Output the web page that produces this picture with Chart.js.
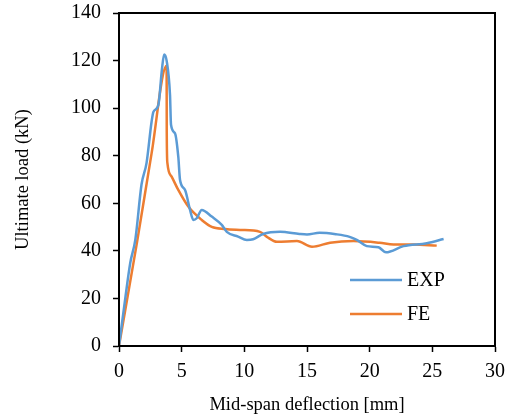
<!DOCTYPE html>
<html>
<head>
<meta charset="utf-8">
<script src="https://cdn.jsdelivr.net/npm/chart.js@4"></script>
<style>
  html, body { margin: 0; padding: 0; background: #fff; }
  #wrap { width: 511px; height: 419px; }
</style>
</head>
<body>
<div id="wrap"><canvas id="myChart" width="511" height="419"></canvas></div>
<script>
// deflection (mm) / load (kN)
const expX = [0, 0.5, 0.9, 1.3, 1.8, 2.2, 2.6, 2.75, 3.14, 3.42, 3.6, 3.8, 4.07, 4.15, 4.47, 4.73, 4.87, 5.27, 5.67, 5.93, 6.2, 6.6, 7.4, 8.2, 8.6, 9.5, 10.2, 10.7, 11.5, 12.85, 14.4, 15.0, 16.0, 17.3, 18.4, 18.97, 19.77, 20.7, 21.3, 22.7, 24.56, 25.9];
const expY = [0, 20, 35, 44.6, 68, 77, 94.3, 98.5, 101.3, 116, 122.6, 120, 105.5, 93, 89.4, 79.6, 69.8, 65.6, 57.2, 53, 53.7, 57.2, 54.4, 50.9, 48, 46, 44.6, 44.9, 47.1, 48, 47.1, 46.9, 47.6, 47, 45.9, 44.6, 42, 41.5, 39.4, 42, 43.2, 45];

const feX = [0, 1.45, 2.6, 3.8, 3.81, 3.86, 4.2, 4.73, 5.53, 6.6, 7.4, 8.46, 9.66, 11.25, 11.8, 12.6, 14.2, 15.4, 16.84, 18.7, 20.8, 21.9, 23.5, 25.35];
const feY = [0, 44, 81, 117.8, 90, 77, 71.2, 65.6, 58.6, 53, 50.1, 49.2, 48.8, 48, 45.9, 43.8, 44.1, 41.7, 43.4, 44.1, 43.4, 42.7, 42.7, 42.2];

const seriesNames = ["EXP", "FE"];
const seriesColors = ["#5B9BD5", "#ED7D31"];

const xTicks = [0, 5, 10, 15, 20, 25, 30];
const yTicks = [0, 20, 40, 60, 80, 100, 120, 140];

const toPoints = (xs, ys) => xs.map((x, i) => ({ x: x, y: ys[i] }));

const serif = "'Liberation Serif', 'Times New Roman', serif";

// box around plot area + legend inside it
const frameAndLegend = {
  id: "frameAndLegend",
  afterDraw(chart) {
    const { ctx, chartArea } = chart;
    ctx.save();
    ctx.strokeStyle = "#000";
    ctx.lineWidth = 2;
    ctx.strokeRect(chartArea.left, chartArea.top, chartArea.right - chartArea.left, chartArea.bottom - chartArea.top);

    ctx.font = "20px " + serif;
    ctx.textBaseline = "middle";
    ctx.fillStyle = "#000";
    const rows = [280, 314];
    seriesNames.forEach((name, i) => {
      ctx.strokeStyle = seriesColors[i];
      ctx.lineWidth = 2.5;
      ctx.beginPath();
      ctx.moveTo(350, rows[i]);
      ctx.lineTo(402, rows[i]);
      ctx.stroke();
      ctx.fillText(name, 407, rows[i] + 1);
    });
    ctx.restore();
  },
};

const ctx = document.getElementById("myChart");

new Chart(ctx, {
  type: "line",
  data: {
    datasets: [
      {
        label: seriesNames[0],
        data: toPoints(expX, expY),
        borderColor: seriesColors[0],
        borderWidth: 2.5,
        pointRadius: 0,
        cubicInterpolationMode: "monotone",
      },
      {
        label: seriesNames[1],
        data: toPoints(feX, feY),
        borderColor: seriesColors[1],
        borderWidth: 2.5,
        pointRadius: 0,
        cubicInterpolationMode: "monotone",
      },
    ],
  },
  options: {
    responsive: false,
    animation: false,
    events: [],
    layout: { padding: { left: 0, top: 13, right: 16, bottom: 0 } },
    plugins: {
      legend: { display: false },
      tooltip: { enabled: false },
    },
    scales: {
      x: {
        type: "linear",
        min: 0,
        max: 30,
        afterBuildTicks: (axis) => {
          axis.ticks = xTicks.map((v) => ({ value: v }));
        },
        afterFit: (axis) => {
          axis.height = 73;
          axis.paddingLeft = 0;
          axis.paddingRight = 0;
        },
        grid: {
          drawOnChartArea: false,
          drawTicks: true,
          tickLength: 6,
          tickWidth: 1.5,
          tickColor: "#000",
        },
        border: { color: "#000", width: 2 },
        ticks: {
          color: "#000",
          padding: 8,
          maxRotation: 0,
          font: { family: serif, size: 20 },
        },
        title: {
          display: true,
          text: "Mid-span deflection [mm]",
          color: "#000",
          font: { family: serif, size: 18.5 },
          padding: { top: 0, bottom: 3 },
        },
      },
      y: {
        min: 0,
        max: 140,
        afterBuildTicks: (axis) => {
          axis.ticks = yTicks.map((v) => ({ value: v }));
        },
        afterFit: (axis) => {
          axis.width = 119;
          axis.paddingTop = 0;
          axis.paddingBottom = 0;
        },
        grid: {
          drawOnChartArea: false,
          drawTicks: true,
          tickLength: 6,
          tickWidth: 1.5,
          tickColor: "#000",
        },
        border: { color: "#000", width: 2 },
        ticks: {
          color: "#000",
          padding: 12,
          font: { family: serif, size: 20 },
        },
        title: {
          display: true,
          text: "Ultimate load (kN)",
          color: "#000",
          font: { family: serif, size: 18.5 },
          padding: { top: 12, bottom: 0 },
        },
      },
    },
  },
  plugins: [frameAndLegend],
});
</script>
</body>
</html>
